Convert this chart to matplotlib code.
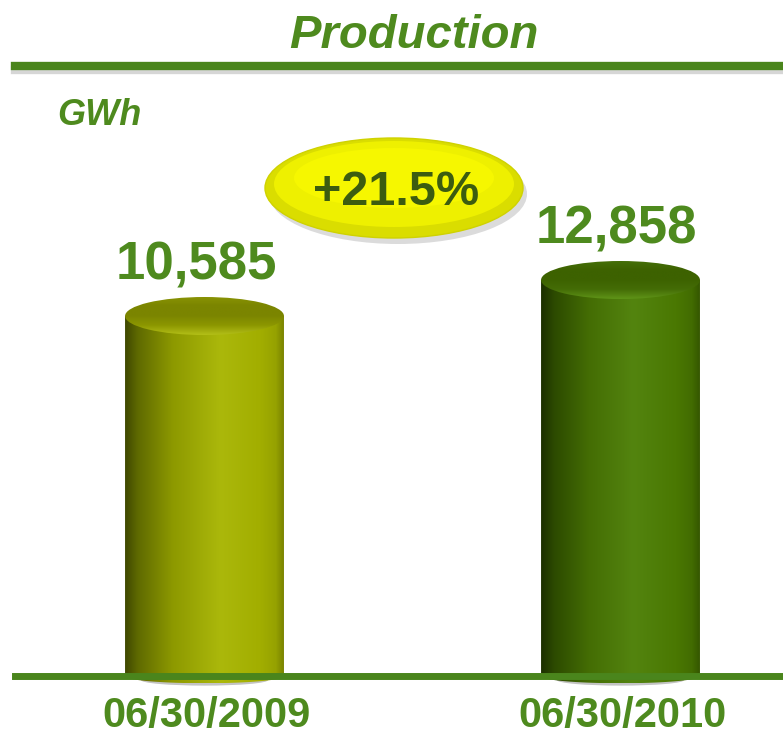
import matplotlib.pyplot as plt
import numpy as np
from matplotlib.patches import Ellipse, PathPatch
from matplotlib.path import Path
from matplotlib.lines import Line2D
from matplotlib.colors import LinearSegmentedColormap

plt.rcParams['font.family'] = ['Liberation Sans', 'DejaVu Sans']

# data
title = 'Production'
unit = 'GWh'
dates = ['06/30/2009', '06/30/2010']
production = [10585, 12858]

# styles
green = '#4e8a1e'
dark_green = '#3c5c10'
body_colors = [[(0, '#3f4800'), (0.08, '#5f6a00'), (0.3, '#8d9900'), (0.6, '#abb80b'),
                (0.85, '#a2ae00'), (0.95, '#96a200'), (1, '#7a8400')],
               [(0, '#1c3000'), (0.08, '#2c4a00'), (0.3, '#446d04'), (0.58, '#53840f'),
                (0.85, '#4a7802'), (0.95, '#426c01'), (1, '#355700')]]
top_colors = [['#b3bf18', '#8c9700', '#7b8500', '#7b8500', '#8a9404'],
              ['#5f9418', '#446c06', '#3d6200', '#3d6200', '#46700a']]

fig = plt.figure(figsize=(7.83, 7.37), dpi=100)
ax = fig.add_axes([0, 0, 1, 1])
ax.axis('off')

base = -12150          # value of the drawn floor line
half_w = 0.191
cap_ry = 1200
bot_ry = 450
label_shift = [-0.02, -0.01]

for i, v in enumerate(production):
    # body: straight sides with a shallow rounded bottom
    t = np.linspace(np.pi, 2 * np.pi, 40)
    bx = i + half_w * np.cos(t)
    by = base + bot_ry * np.sin(t)
    xs = np.concatenate([[i - half_w], bx, [i + half_w, i - half_w]])
    ys = np.concatenate([[v], by, [v, v]])
    body = PathPatch(Path(np.column_stack([xs, ys])), fc='none', ec='none')
    ax.add_patch(body)
    cmap = LinearSegmentedColormap.from_list('b%d' % i, body_colors[i])
    im = ax.imshow(np.linspace(0, 1, 256).reshape(1, -1), cmap=cmap, aspect='auto',
                   extent=[i - half_w, i + half_w, base - bot_ry, v], zorder=2)
    im.set_clip_path(body)

    # top cap
    cap = Ellipse((i, v), 2 * half_w, 2 * cap_ry, fc='none', ec='none')
    ax.add_patch(cap)
    cmap = LinearSegmentedColormap.from_list('t%d' % i, top_colors[i])
    im = ax.imshow(np.linspace(0, 1, 256).reshape(-1, 1), cmap=cmap, aspect='auto',
                   origin='lower', extent=[i - half_w, i + half_w, v - cap_ry, v + cap_ry],
                   zorder=3)
    im.set_clip_path(cap)

    # shadow below the floor
    ax.add_patch(Ellipse((i, base - 250), 2 * half_w * 0.8, 700, fc='#555555',
                         alpha=0.35, ec='none', zorder=1))

    ax.text(i + label_shift[i], v + 2300, f'{v:,}', ha='center', va='baseline', fontsize=38,
            fontweight='bold', color=green, zorder=5)
    ax.text(i + 0.005, base - 3230, dates[i], ha='center', va='baseline', fontsize=30,
            fontweight='bold', color=green, zorder=5)

ax.axhline(base, xmin=15 / 783, xmax=1, color='#4a851c', lw=5, zorder=4)

ax.set_xlim(-0.4916, 1.3906)
ax.set_ylim(-15993, 30535)

# header
fig.text(414 / 783, 1 - 48 / 737, title, ha='center', va='baseline', fontsize=34,
         fontweight='bold', style='italic', color=green)
fig.add_artist(Line2D([15 / 783, 1], [1 - 70 / 737] * 2, transform=fig.transFigure,
                      lw=6, color='#bbbbbb', alpha=0.6))
fig.add_artist(Line2D([15 / 783, 1], [1 - 66 / 737] * 2, transform=fig.transFigure,
                      lw=6, color='#4a851c'))
fig.text(57 / 783, 1 - 125 / 737, unit, ha='left', va='baseline', fontsize=26,
         fontweight='bold', style='italic', color=green)

# growth badge
growth = (production[1] / production[0] - 1) * 100
cx, cy = 394 / 783, 1 - 188 / 737
fig.add_artist(Ellipse((cx + 4 / 783, cy - 6 / 737), 258 / 783, 100 / 737,
                       transform=fig.transFigure, fc='#888888', alpha=0.3, ec='none'))
fig.add_artist(Ellipse((cx, cy), 258 / 783, 100 / 737, transform=fig.transFigure,
                       fc='#dadd00', ec='#cfd200', lw=1))
fig.add_artist(Ellipse((cx, cy + 4 / 737), 240 / 783, 86 / 737, transform=fig.transFigure,
                       fc='#eef000', ec='none'))
fig.add_artist(Ellipse((cx, cy + 10 / 737), 200 / 783, 60 / 737, transform=fig.transFigure,
                       fc='#f6f700', ec='none'))
fig.text(396 / 783, 1 - 205 / 737, f'+{growth:.1f}%', ha='center', va='baseline',
         fontsize=35, fontweight='bold', color=dark_green)

fig.savefig('out.png', dpi=100)
